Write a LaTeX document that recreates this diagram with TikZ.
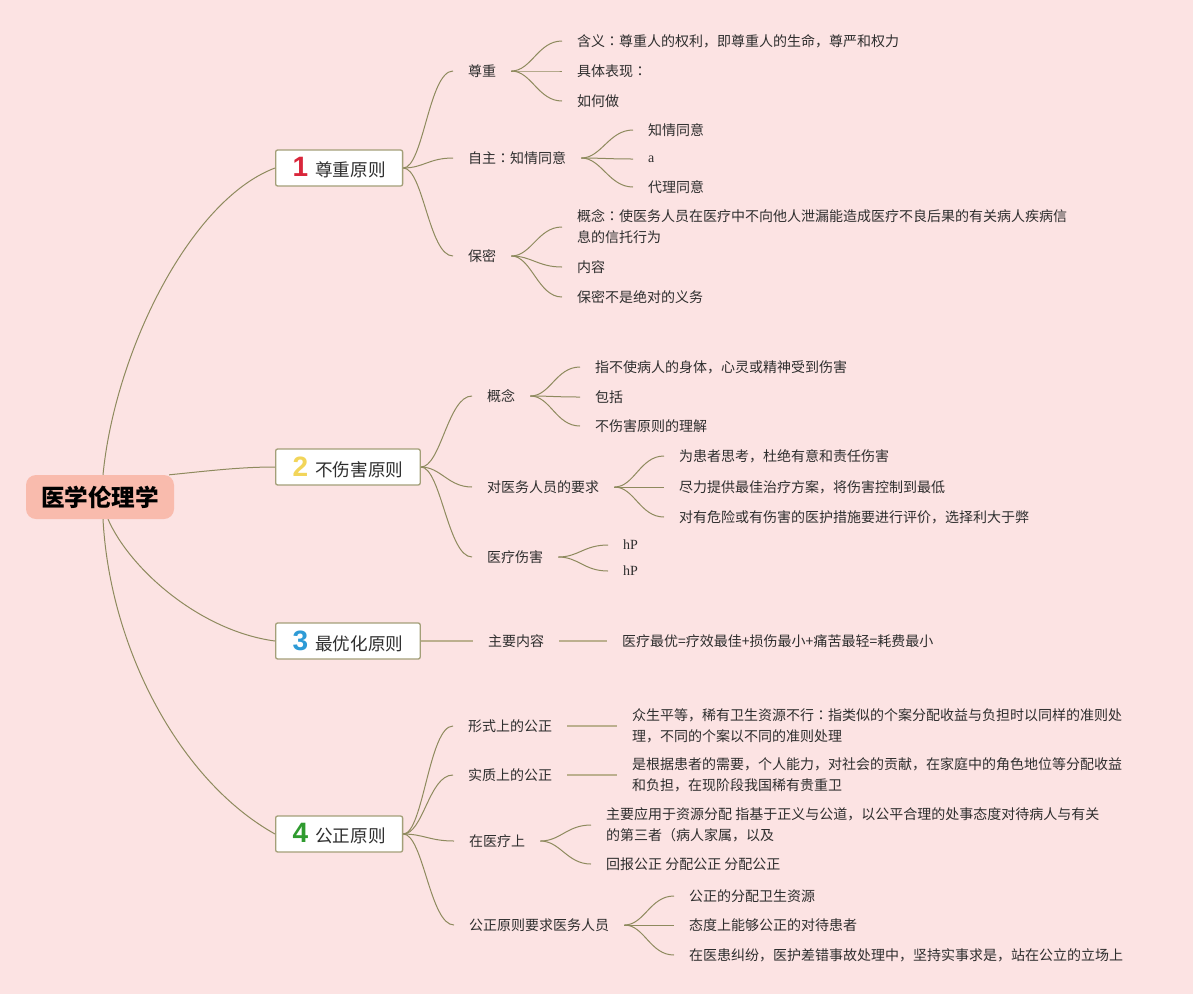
\documentclass[tikz,border=0pt]{standalone}
\usepackage{fontspec}
\setmainfont{Noto Sans CJK SC}
\newfontfamily\tcf{Noto Sans CJK TC}
\newfontfamily\numf{Liberation Sans}
\newfontfamily\serf{Liberation Serif}
\definecolor{bgc}{HTML}{FCE3E3}
\definecolor{rootc}{HTML}{F9BBAD}
\definecolor{boxc}{HTML}{A39F78}
\definecolor{linec}{HTML}{8E8A5E}
\definecolor{linec2}{HTML}{BCAF8E}
\definecolor{txt}{HTML}{2E2E2E}
\definecolor{cone}{HTML}{D9263B}
\definecolor{ctwo}{HTML}{F2D55A}
\definecolor{cthree}{HTML}{2E9BD6}
\definecolor{cfour}{HTML}{2F9B2F}
\newcommand\numtag[2]{{\numf\bfseries\fontsize{28}{28}\selectfont\color{#1}#2}\hspace{7pt}}
\newcommand\colo{{\tcf ：}}
\newcommand\cc[2]{\draw[conn] (#1.east) .. controls +(20,0) and +(-24,0) .. (#2.west);}
\begin{document}
\begin{tikzpicture}[x=1pt,y=-1pt,
  rootbox/.style={fill=rootc, rounded corners=10pt, inner xsep=15pt, minimum height=44pt, font=\bfseries\fontsize{23.6}{26}\selectfont, text=black},
  mainbox/.style={draw=boxc, line width=1.3pt, fill=white, rounded corners=2pt, minimum height=36pt, inner xsep=17pt, inner ysep=0pt, font=\fontsize{17.6}{20}\selectfont, text=txt, anchor=west},
  sub/.style={inner xsep=15pt, inner ysep=2pt, anchor=west, font=\fontsize{14}{21}\selectfont, text=txt, align=left},
  conn/.style={draw=linec, line width=1pt},
  straight/.style={draw=linec2, line width=2pt}]
\fill[bgc] (0,0) rectangle (1193,994);
\useasboundingbox (0,0) rectangle (1193,994);

% root and main boxes
\node[rootbox] (root) at (100,497) {医学伦理学};
\node[mainbox] (n1) at (275,168) {\numtag{cone}{1}尊重原则};
\node[mainbox] (n2) at (275,467) {\numtag{ctwo}{2}不伤害原则};
\node[mainbox] (n3) at (275,641) {\numtag{cthree}{3}最优化原则};
\node[mainbox] (n4) at (275,834) {\numtag{cfour}{4}公正原则};

\draw[conn] ([xshift=3pt]root.north) .. controls +(12,-123) and +(-85,32) .. (n1.west);
\draw[conn] ([xshift=-5pt]root.north east) .. controls +(40,-4) and +(-35,0) .. (n2.west);
\draw[conn] ([xshift=8pt]root.south) .. controls +(22,50) and +(-75,-10) .. (n3.west);
\draw[conn] ([xshift=3pt]root.south) .. controls +(7,130) and +(-95,-53) .. (n4.west);

% branch 1
\node[sub] (a1) at (453,71) {尊重};
\node[sub] (a2) at (453,158) {自主\colo 知情同意};
\node[sub] (a3) at (453,256) {保密};
\cc{n1}{a1}\cc{n1}{a2}\cc{n1}{a3}
\node[sub] (a11) at (562,41) {含义\colo 尊重人的权利，即尊重人的生命，尊严和权力};
\node[sub] (a12) at (562,71) {具体表现\colo};
\node[sub] (a13) at (562,101) {如何做};
\cc{a1}{a11}\cc{a1}{a12}\cc{a1}{a13}
\node[sub] (a21) at (633,130) {知情同意};
\node[sub] (a22) at (633,159) {\serf a};
\node[sub] (a23) at (633,187) {代理同意};
\cc{a2}{a21}\cc{a2}{a22}\cc{a2}{a23}
\node[sub] (a31) at (562,227) {概念\colo 使医务人员在医疗中不向他人泄漏能造成医疗不良后果的有关病人疾病信\\息的信托行为};
\node[sub] (a32) at (562,267) {内容};
\node[sub] (a33) at (562,297) {保密不是绝对的义务};
\cc{a3}{a31}\cc{a3}{a32}\cc{a3}{a33}

% branch 2
\node[sub] (b1) at (472,396) {概念};
\node[sub] (b2) at (472,487) {对医务人员的要求};
\node[sub] (b3) at (472,557) {医疗伤害};
\cc{n2}{b1}\cc{n2}{b2}\cc{n2}{b3}
\node[sub] (b11) at (580,367) {指不使病人的身体，心灵或精神受到伤害};
\node[sub] (b12) at (580,397) {包括};
\node[sub] (b13) at (580,426) {不伤害原则的理解};
\cc{b1}{b11}\cc{b1}{b12}\cc{b1}{b13}
\node[sub] (b21) at (664,456) {为患者思考，杜绝有意和责任伤害};
\node[sub] (b22) at (664,487) {尽力提供最佳治疗方案，将伤害控制到最低};
\node[sub] (b23) at (664,517) {对有危险或有伤害的医护措施要进行评价，选择利大于弊};
\cc{b2}{b21}\cc{b2}{b22}\cc{b2}{b23}
\node[sub] (b31) at (608,545) {\serf hP};
\node[sub] (b32) at (608,571) {\serf hP};
\cc{b3}{b31}\cc{b3}{b32}

% branch 3
\node[sub] (c1) at (473,641) {主要内容};
\draw[straight] (n3.east) -- (c1.west);
\node[sub] (c11) at (607,641) {医疗最优=疗效最佳+损伤最小+痛苦最轻=耗费最小};
\draw[straight] (c1.east) -- (c11.west);

% branch 4
\node[sub] (d1) at (453,726) {形式上的公正};
\node[sub] (d2) at (453,775) {实质上的公正};
\node[sub] (d3) at (454,841) {在医疗上};
\node[sub] (d4) at (454,925) {公正原则要求医务人员};
\cc{n4}{d1}\cc{n4}{d2}\cc{n4}{d3}\cc{n4}{d4}
\node[sub] (d11) at (617,726) {众生平等，稀有卫生资源不行\colo 指类似的个案分配收益与负担时以同样的准则处\\理，不同的个案以不同的准则处理};
\draw[straight] (d1.east) -- (d11.west);
\node[sub] (d21) at (617,775) {是根据患者的需要，个人能力，对社会的贡献，在家庭中的角色地位等分配收益\\和负担，在现阶段我国稀有贵重卫};
\draw[straight] (d2.east) -- (d21.west);
\node[sub] (d31) at (591,825) {主要应用于资源分配 指基于正义与公道，以公平合理的处事态度对待病人与有关\\的第三者（病人家属，以及};
\node[sub] (d32) at (591,864) {回报公正 分配公正 分配公正};
\cc{d3}{d31}\cc{d3}{d32}
\node[sub] (d41) at (674,896) {公正的分配卫生资源};
\node[sub] (d42) at (674,925) {态度上能够公正的对待患者};
\node[sub] (d43) at (674,955) {在医患纠纷，医护差错事故处理中，坚持实事求是，站在公立的立场上};
\cc{d4}{d41}\cc{d4}{d42}\cc{d4}{d43}
\end{tikzpicture}
\end{document}
